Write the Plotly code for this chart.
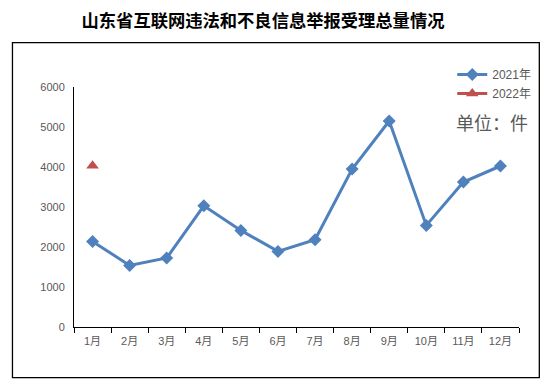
import plotly.graph_objects as go

months = ["1月", "2月", "3月", "4月", "5月", "6月", "7月", "8月", "9月", "10月", "11月", "12月"]
values_2021 = [2140, 1540, 1725, 3030, 2415, 1890, 2180, 3950, 5150, 2540, 3625, 4025]
months_2022 = ["1月"]
values_2022 = [4030]
y_ticks = [0, 1000, 2000, 3000, 4000, 5000, 6000]

title_text = "山东省互联网违法和不良信息举报受理总量情况"
unit_text = "单位：件"

# page (window) geometry; the page body has an 8px default margin
PAGE_W, PAGE_H = 554, 384
OFF = 8
W, H = PAGE_W - OFF, PAGE_H - OFF
# plot area in page pixels
PX_L, PX_R, PX_T, PX_B = 74, 518.7, 87, 327.3
L = PX_L - OFF
R = PAGE_W - PX_R
T = PX_T - OFF
B = PAGE_H - PX_B
pw = PX_R - PX_L
ph = PX_B - PX_T


def px_x(x):
    return (x - PX_L) / pw


def px_y(y):
    return (PX_B - y) / ph


fig = go.Figure()
fig.add_trace(go.Scatter(
    x=months, y=values_2021, name="2021年", mode="lines+markers",
    line=dict(color="#4F81BD", width=3),
    marker=dict(symbol="diamond", size=10, color="#4F81BD"),
))
fig.add_trace(go.Scatter(
    x=months_2022, y=values_2022, name="2022年", mode="lines+markers",
    line=dict(color="#C0504D", width=3),
    marker=dict(symbol="triangle-up", size=11, color="#C0504D"),
))

fig.update_layout(
    width=W, height=H,
    margin=dict(l=L, r=R, t=T, b=B, pad=0),
    paper_bgcolor="white", plot_bgcolor="white",
    font=dict(family="Liberation Sans, Noto Sans CJK SC", size=11, color="#595959"),
    title=dict(text="<b>" + title_text + "</b>", x=(263 - OFF) / W, xanchor="center", xref="container",
               y=1 - (20.5 - OFF) / H, yanchor="middle", yref="container",
               font=dict(family="Noto Sans CJK SC", size=17.3, color="#000000")),
    showlegend=True,
    legend=dict(x=px_x(452), y=px_y(60), xanchor="left", yanchor="top",
                bgcolor="rgba(0,0,0,0)", font=dict(size=12, color="#595959"),
                tracegroupgap=0, itemwidth=30),
    xaxis=dict(type="category", categoryorder="array", categoryarray=months,
               range=[-0.5, 11.5], showline=True, linecolor="#000000", linewidth=1,
               ticks="outside", tickson="boundaries", ticklen=5, tickcolor="#000000",
               showgrid=False, zeroline=False, fixedrange=True, ticklabelstandoff=4),
    yaxis=dict(range=[0, 6000], tickvals=y_ticks, showline=True, linecolor="#000000",
               linewidth=1, ticks="", showgrid=False, zeroline=False, ticklabelstandoff=6),
    shapes=[dict(type="rect", xref="paper", yref="paper",
                 x0=px_x(12.5), x1=px_x(539), y0=px_y(378), y1=px_y(42.5),
                 line=dict(color="#000000", width=1.3), fillcolor="rgba(0,0,0,0)", layer="below")],
    annotations=[dict(text=unit_text, xref="paper", yref="paper", x=px_x(454), y=px_y(122),
                      xanchor="left", yanchor="middle", showarrow=False,
                      font=dict(family="Noto Sans CJK SC", size=18, color="#595959"))],
)

fig.write_html("out.html")
